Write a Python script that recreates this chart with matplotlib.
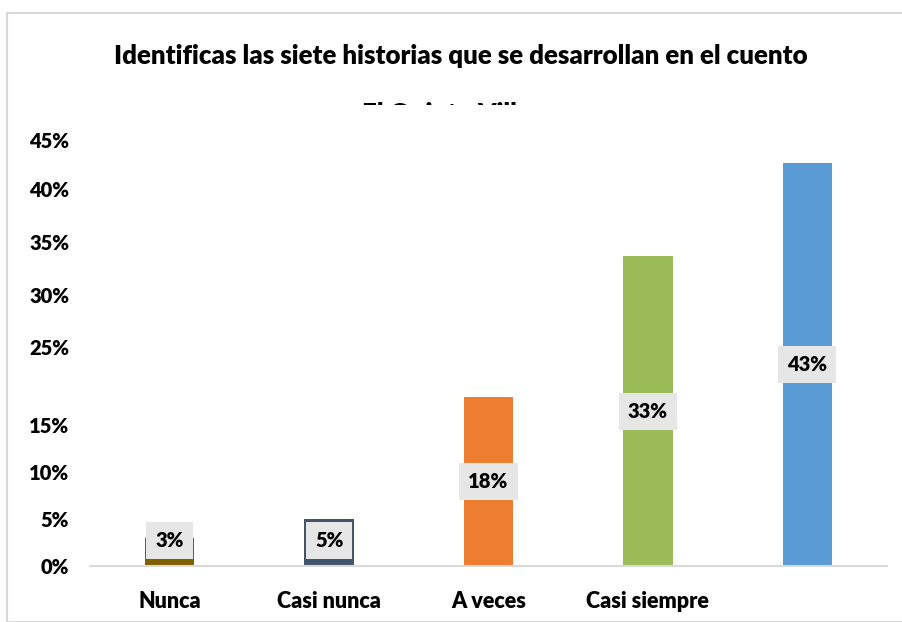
import matplotlib
matplotlib.use("Agg")
from matplotlib import pyplot as plt
from matplotlib.patches import Rectangle

categories = ["Nunca", "Casi nunca", "A veces", "Casi siempre", ""]
values = [3, 5, 18, 33, 43]
value_labels = ["3%", "5%", "18%", "33%", "43%"]
colors = ["#7F6000", "#44546A", "#ED7D31", "#9BBB59", "#5B9BD5"]
tick_labels = ["0%", "5%", "10%", "15%", "25%", "30%", "35%", "40%", "45%"]
# tick positions as drawn in the original (upper labels sit a bit off the scale)
tick_pos = [0, 5, 10, 15, 23.3, 28.9, 34.5, 40.2, 45.4]

title = "Identificas las siete historias que se desarrollan en el cuento"
title2 = "El Quinto Villano"

plt.rcParams["font.family"] = ["Lato", "DejaVu Sans"]
BOLD = "heavy"

W, H = 903, 622
fig = plt.figure(figsize=(W / 100, H / 100), dpi=100)

# chart frame
fig.patches.append(Rectangle((7 / W, 0), 1, 1 - 13 / H, transform=fig.transFigure,
                             fill=False, edgecolor="#D9D9D9", linewidth=1.5))

ax = fig.add_axes([90 / W, (H - 566) / H, (887 - 90) / W, (566 - 140) / H])
x = range(len(categories))
ax.bar(x, values, width=0.31, color=colors, zorder=2)
for i, (v, lab) in enumerate(zip(values, value_labels)):
    ax.text(i, max(v / 2, 2.7), lab, ha="center", va="center", fontsize=14.5,
            fontweight=BOLD, color="black", zorder=3,
            bbox=dict(boxstyle="square,pad=0.45", facecolor="#E7E6E6", edgecolor="none"))

ax.set_xlim(-0.5, 4.5)
ax.set_ylim(0, 45)
ax.set_xticks(list(x))
ax.set_xticklabels(categories, fontsize=15.5, fontweight=BOLD)
ax.set_yticks(tick_pos)
ax.set_yticklabels(tick_labels, fontsize=14.5, fontweight=BOLD)
ax.tick_params(length=0)
ax.tick_params(axis="x", pad=18)
ax.tick_params(axis="y", pad=15)
for s in ["top", "right", "left"]:
    ax.spines[s].set_visible(False)
ax.spines["bottom"].set_color("#D9D9D9")
ax.spines["bottom"].set_linewidth(1.5)

tx = 461 / W
fig.text(tx, 1 - 56 / H, title, ha="center", va="center", fontsize=18.6, fontweight=BOLD)
fig.text(tx, 1 - 114 / H, title2, ha="center", va="center", fontsize=18.6,
         fontweight=BOLD, zorder=3)
# the second title line is cut off in the original
fig.patches.append(Rectangle((0.1, 1 - 130 / H), 0.8, 25 / H, transform=fig.transFigure,
                             facecolor="white", edgecolor="none", zorder=4))

fig.savefig("out.png", dpi=100)
